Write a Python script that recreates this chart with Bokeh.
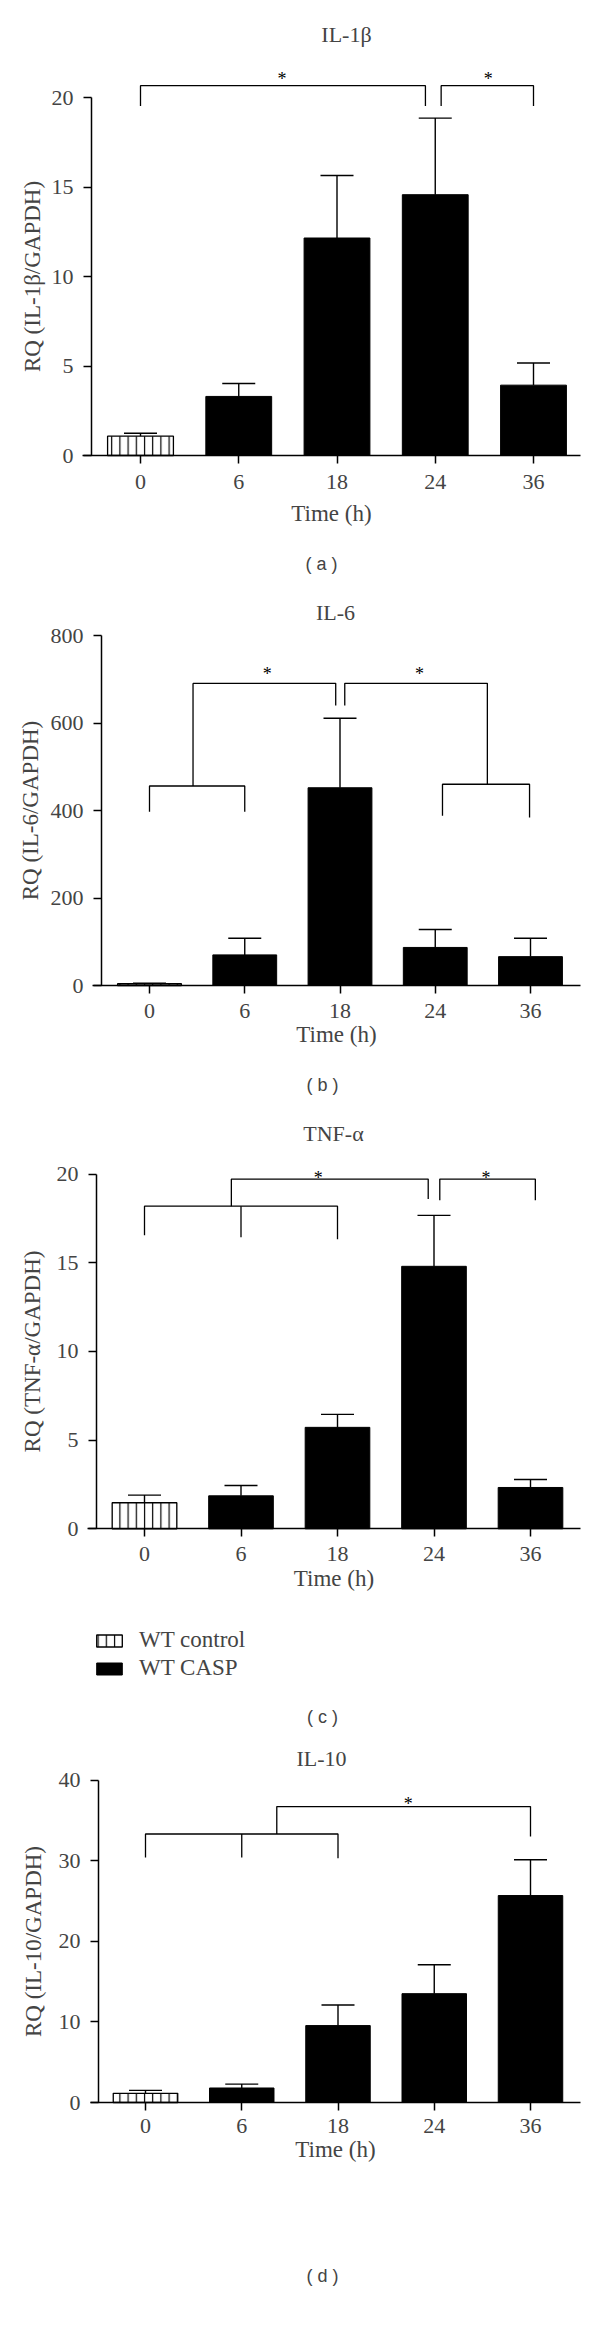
from bokeh.plotting import figure
from bokeh.models import (Range1d, FixedTicker, Label, Legend, LegendItem,
                          Whisker, TeeHead, ColumnDataSource)
from bokeh.layouts import column
from bokeh.embed import file_html
from bokeh.resources import INLINE
from bokeh.core.properties import value

# ---------------- data ----------------
times = ["0", "6", "18", "24", "36"]
groups = ["WT control", "WT CASP", "WT CASP", "WT CASP", "WT CASP"]

il1b_mean = [1.08, 3.30, 12.15, 14.57, 3.93]
il1b_sem = [0.16, 0.72, 3.49, 4.28, 1.24]

il6_mean = [4, 70, 452, 87, 66]
il6_sem = [1, 38, 159, 41, 42]

tnf_mean = [1.47, 1.86, 5.72, 14.80, 2.33]
tnf_sem = [0.43, 0.58, 0.73, 2.87, 0.45]

il10_mean = [1.14, 1.80, 9.54, 13.50, 25.67]
il10_sem = [0.36, 0.48, 2.56, 3.58, 4.43]

il1b_ticks = [0, 5, 10, 15, 20]
il6_ticks = [0, 200, 400, 600, 800]
tnf_ticks = [0, 5, 10, 15, 20]
il10_ticks = [0, 10, 20, 30, 40]

SERIF = "Liberation Serif"
SANS = "Liberation Sans"
W = 600

# layout of each panel (page pixels): canvas top/height, x of first category,
# category spacing, y pixel of zero, pixels per unit, axis extents
panels = [
    dict(title="IL-1β", ylabel="RQ (IL-1β/GAPDH)", tag="( a )",
         mean=il1b_mean, sem=il1b_sem, ticks=il1b_ticks,
         T=0, H=590, p0=140, s=98.25, y0=455, ys=17.9,
         xa=(82, 580), ya_x=91,
         title_pos=(346, 34), tag_pos=(321, 563),
         xtick_st=11, xlab_st=9, ylab_st=4,
         brackets=[([0, 0, 2.9, 2.9], [19.53, 20.66, 20.66, 19.53]),
                   ([3.06, 3.06, 4, 4], [19.53, 20.66, 20.66, 19.53])],
         stars=[(1.44, 21.56), (3.54, 21.56)], legend=False),
    dict(title="IL-6", ylabel="RQ (IL-6/GAPDH)", tag="( b )",
         mean=il6_mean, sem=il6_sem, ticks=il6_ticks,
         T=590, H=520, p0=149, s=95.25, y0=985, ys=0.4375,
         xa=(92, 580), ya_x=101,
         title_pos=(335, 612), tag_pos=(322, 1084),
         xtick_st=10, xlab_st=1, ylab_st=5,
         brackets=[([0, 0, 1, 1], [397, 456, 456, 397]),
                   ([0.457, 0.457], [456, 690.6]),
                   ([0.457, 1.955, 1.955], [690.6, 690.6, 640]),
                   ([2.05, 2.05, 3.547, 3.547], [640, 690.6, 690.6, 460]),
                   ([3.076, 3.076, 3.99, 3.99], [388, 460, 460, 384])],
         stars=[(1.236, 732), (2.835, 732)], legend=False),
    dict(title="TNF-α", ylabel="RQ (TNF-α/GAPDH)", tag="( c )",
         mean=tnf_mean, sem=tnf_sem, ticks=tnf_ticks,
         T=1110, H=630, p0=144, s=96.5, y0=1528.3, ys=17.735,
         xa=(87, 580), ya_x=96,
         title_pos=(333, 1133), tag_pos=(322, 1716),
         xtick_st=10, xlab_st=2, ylab_st=9,
         brackets=[([0, 0, 2, 2], [16.55, 18.19, 18.19, 16.33]),
                   ([1, 1], [16.44, 18.19]),
                   ([0.9, 0.9, 2.94, 2.94], [18.19, 19.72, 19.72, 18.6]),
                   ([3.06, 3.06, 4.05, 4.05], [18.53, 19.72, 19.72, 18.53])],
         stars=[(1.8, 20.3), (3.54, 20.3)], legend=True),
    dict(title="IL-10", ylabel="RQ (IL-10/GAPDH)", tag="( d )",
         mean=il10_mean, sem=il10_sem, ticks=il10_ticks,
         T=1740, H=570, p0=145, s=96.25, y0=2102, ys=8.0625,
         xa=(90, 580), ya_x=98,
         title_pos=(321, 1758), tag_pos=(322, 2275),
         xtick_st=8, xlab_st=1, ylab_st=10,
         brackets=[([0, 0, 2, 2], [30.4, 33.3, 33.3, 30.3]),
                   ([1, 1], [30.4, 33.3]),
                   ([1.364, 1.364, 4, 4], [33.3, 36.7, 36.7, 33.0])],
         stars=[(2.73, 38.1)], legend=False),
]


def make_panel(cfg):
    T, H, p0, s, y0, ys = cfg["T"], cfg["H"], cfg["p0"], cfg["s"], cfg["y0"], cfg["ys"]

    def dx(px):
        return (px - p0) / s

    def dy(py):
        return (y0 - py) / ys

    p = figure(width=W, height=H, output_backend="svg",
               toolbar_location=None, tools="",
               x_range=Range1d(dx(0), dx(W)),
               y_range=Range1d(dy(T + H), dy(T)),
               min_border=0, min_border_top=0, min_border_bottom=0,
               min_border_left=0, min_border_right=0)
    p.title.visible = False
    p.outline_line_color = None
    p.grid.visible = False
    p.background_fill_color = "white"
    p.border_fill_color = "white"

    idx = list(range(len(times)))
    upper = [m + e for m, e in zip(cfg["mean"], cfg["sem"])]
    ctrl = [i for i in idx if groups[i] == "WT control"]
    casp = [i for i in idx if groups[i] == "WT CASP"]

    src_c = ColumnDataSource(dict(x=ctrl, top=[cfg["mean"][i] for i in ctrl]))
    src_k = ColumnDataSource(dict(x=casp, top=[cfg["mean"][i] for i in casp]))

    r_c = p.vbar(x="x", top="top", bottom=0, width=0.67, source=src_c,
                 fill_color="white", line_color="black", line_width=1.3,
                 hatch_pattern="vertical_line", hatch_color="black",
                 hatch_scale=8.2, hatch_weight=1.2)
    r_k = p.vbar(x="x", top="top", bottom=0, width=0.67, source=src_k,
                 fill_color="black", line_color="black", line_width=1)

    err_src = ColumnDataSource(dict(x=idx, lower=cfg["mean"], upper=upper))
    wh = Whisker(source=err_src, base="x", lower="lower", upper="upper",
                 dimension="height", line_color="black", line_width=1.4,
                 upper_head=TeeHead(size=33, line_width=1.4, line_color="black"),
                 lower_head=None)
    p.add_layout(wh)

    # significance brackets
    p.multi_line(xs=[b[0] for b in cfg["brackets"]], ys=[b[1] for b in cfg["brackets"]],
                 line_color="black", line_width=1.3)
    p.text(x=[st[0] for st in cfg["stars"]], y=[st[1] for st in cfg["stars"]],
           text=["*"] * len(cfg["stars"]), text_font=value(SERIF),
           text_font_size="18px", text_align="center", text_baseline="alphabetic",
           y_offset=9, text_color="black")

    # axes (fixed inside the full-canvas frame)
    xa = p.xaxis[0]
    xa.fixed_location = 0
    xa.bounds = (dx(cfg["xa"][0]), dx(cfg["xa"][1]))
    xa.ticker = FixedTicker(ticks=idx)
    xa.major_label_overrides = {i: t for i, t in zip(idx, times)}
    xa.minor_tick_line_color = None
    xa.major_tick_in = 0
    xa.major_tick_out = 8
    xa.axis_line_width = 1.5
    xa.major_tick_line_width = 1.5
    xa.major_label_text_font = SERIF
    xa.major_label_text_font_size = "22px"
    xa.major_label_standoff = cfg["xtick_st"]
    xa.axis_label = "Time (h)"
    xa.axis_label_text_font = SERIF
    xa.axis_label_text_font_size = "23px"
    xa.axis_label_text_font_style = "normal"
    xa.axis_label_standoff = cfg["xlab_st"]

    ya = p.yaxis[0]
    ya.fixed_location = dx(cfg["ya_x"])
    ya.bounds = (cfg["ticks"][0], cfg["ticks"][-1])
    ya.ticker = FixedTicker(ticks=cfg["ticks"])
    ya.minor_tick_line_color = None
    ya.major_tick_in = 0
    ya.major_tick_out = 8
    ya.axis_line_width = 1.5
    ya.major_tick_line_width = 1.5
    ya.major_label_text_font = SERIF
    ya.major_label_text_font_size = "22px"
    ya.major_label_standoff = 10
    ya.axis_label = cfg["ylabel"]
    ya.axis_label_text_font = SERIF
    ya.axis_label_text_font_size = "23px"
    ya.axis_label_text_font_style = "normal"
    ya.axis_label_standoff = cfg["ylab_st"]

    tx, ty = cfg["title_pos"]
    p.add_layout(Label(x=dx(tx), y=dy(ty), text=cfg["title"], text_font=SERIF,
                       text_font_size="22px", text_align="center",
                       text_baseline="middle"))
    gx, gy = cfg["tag_pos"]
    p.add_layout(Label(x=dx(gx), y=dy(gy), text=cfg["tag"], text_font=SANS,
                       text_font_size="18px", text_align="center",
                       text_baseline="middle"))

    if cfg["legend"]:
        leg = Legend(items=[LegendItem(label="WT control", renderers=[r_c]),
                            LegendItem(label="WT CASP", renderers=[r_k])],
                     location=(93, 59), orientation="vertical",
                     glyph_width=32, glyph_height=15, label_height=26,
                     label_standoff=14, spacing=2, padding=0, margin=0,
                     border_line_color=None, background_fill_alpha=0,
                     label_text_font=SERIF, label_text_font_size="23px",
                     label_text_baseline="alphabetic")
        p.add_layout(leg)
    return p


figs = [make_panel(c) for c in panels]
layout = column(*figs, spacing=0)
open("out.html", "w").write(file_html(layout, INLINE))
